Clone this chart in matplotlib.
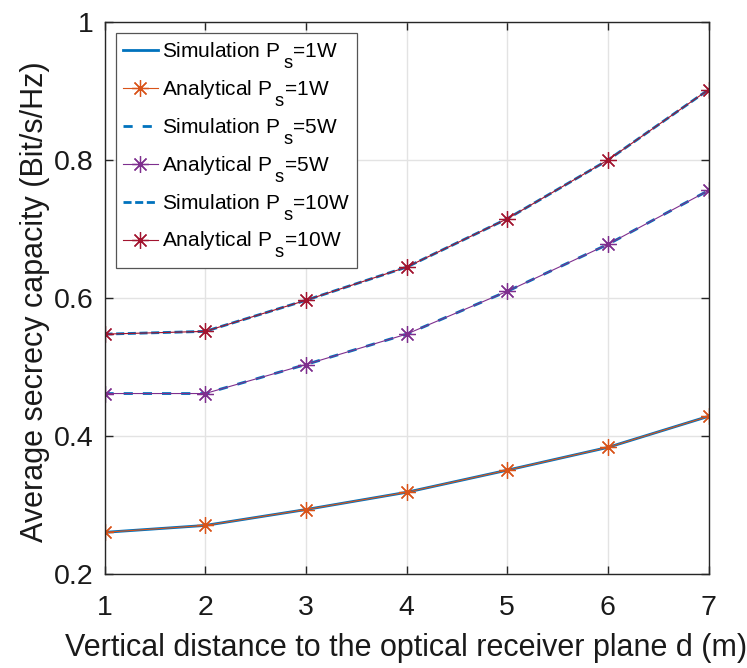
import matplotlib
matplotlib.use("Agg")
import matplotlib.pyplot as plt
import matplotlib._mathtext as mathtext_core

plt.rcParams['font.family'] = ['Liberation Sans', 'DejaVu Sans']
plt.rcParams['mathtext.fontset'] = 'custom'
plt.rcParams['mathtext.rm'] = 'Liberation Sans'
plt.rcParams['mathtext.it'] = 'Liberation Sans'

# TeX-style subscripts: set a little apart, dropped low, only slightly reduced
mathtext_core.SHRINK_FACTOR = 0.88
mathtext_core.FontConstantsBase.sub1 = 1.05
mathtext_core.FontConstantsBase.delta = 0.4

# Vertical distance d (m)
distance = [1, 2, 3, 4, 5, 6, 7]

# Average secrecy capacity (Bit/s/Hz)
sim_1w = [0.261, 0.271, 0.294, 0.319, 0.351, 0.384, 0.429]
ana_1w = [0.261, 0.271, 0.294, 0.319, 0.351, 0.384, 0.429]
sim_5w = [0.462, 0.462, 0.504, 0.548, 0.610, 0.678, 0.756]
ana_5w = [0.462, 0.462, 0.504, 0.548, 0.610, 0.678, 0.756]
sim_10w = [0.548, 0.552, 0.597, 0.645, 0.715, 0.800, 0.902]
ana_10w = [0.548, 0.552, 0.597, 0.645, 0.715, 0.800, 0.902]

x_ticks = [1, 2, 3, 4, 5, 6, 7]
y_ticks = [0.2, 0.4, 0.6, 0.8, 1.0]
y_tick_labels = ['0.2', '0.4', '0.6', '0.8', '1']

BLUE = '#0072BD'
ORANGE = '#D95319'
PURPLE = '#7E2F8E'
RED = '#A2142F'
AXIS = '#262626'

asterisk = (8, 2, 0)

fig = plt.figure(figsize=(7.47, 6.68), dpi=100)
ax = fig.add_axes([0.1399, 0.1400, 0.8086, 0.8271])

ax.plot(distance, sim_1w, color=BLUE, lw=2.0, ls='-',
        label=r'Simulation P$_\mathregular{s}$=1W')
ax.plot(distance, ana_1w, color=ORANGE, lw=0.8, marker=asterisk, ms=12,
        mew=0.9, label=r'Analytical P$_\mathregular{s}$=1W')
ax.plot(distance, sim_5w, color=BLUE, lw=2.0, dashes=(3.3, 3.6),
        label=r'Simulation P$_\mathregular{s}$=5W')
ax.plot(distance, ana_5w, color=PURPLE, lw=0.8, marker=asterisk, ms=12,
        mew=0.9, label=r'Analytical P$_\mathregular{s}$=5W')
ax.plot(distance, sim_10w, color=BLUE, lw=2.0, dashes=(2.9, 1.3),
        label=r'Simulation P$_\mathregular{s}$=10W')
ax.plot(distance, ana_10w, color=RED, lw=0.8, marker=asterisk, ms=12,
        mew=0.9, label=r'Analytical P$_\mathregular{s}$=10W')

ax.set_xlim(1, 7)
ax.set_ylim(0.2, 1.0)
ax.set_xticks(x_ticks)
ax.set_xticklabels([str(v) for v in x_ticks])
ax.set_yticks(y_ticks)
ax.set_yticklabels(y_tick_labels)

ax.grid(True, color='#e3e3e3', lw=1.0)
ax.set_axisbelow(True)
for sp in ax.spines.values():
    sp.set_color(AXIS)
    sp.set_linewidth(1.0)
ax.tick_params(direction='in', length=6, width=1.0, colors=AXIS,
               labelcolor='#1a1a1a', labelsize=20.5, top=True, right=True)
ax.tick_params(axis='x', pad=15)
ax.tick_params(axis='y', pad=8)

ax.set_xlabel('Vertical distance to the optical receiver plane d (m)',
              fontsize=22, color='#1a1a1a', labelpad=8.5)
ax.set_ylabel('Average secrecy capacity (Bit/s/Hz)',
              fontsize=22, color='#1a1a1a', labelpad=2.5)
ax.yaxis.label.set_y(0.493)

leg = ax.legend(loc='upper left', fontsize=15, frameon=True, fancybox=False,
                edgecolor='#555555', framealpha=1.0, handlelength=1.65,
                handletextpad=0.2, borderpad=0.35, labelspacing=0.35,
                borderaxespad=0.55)
leg.get_frame().set_linewidth(0.9)

fig.savefig('out.png', dpi=100)
